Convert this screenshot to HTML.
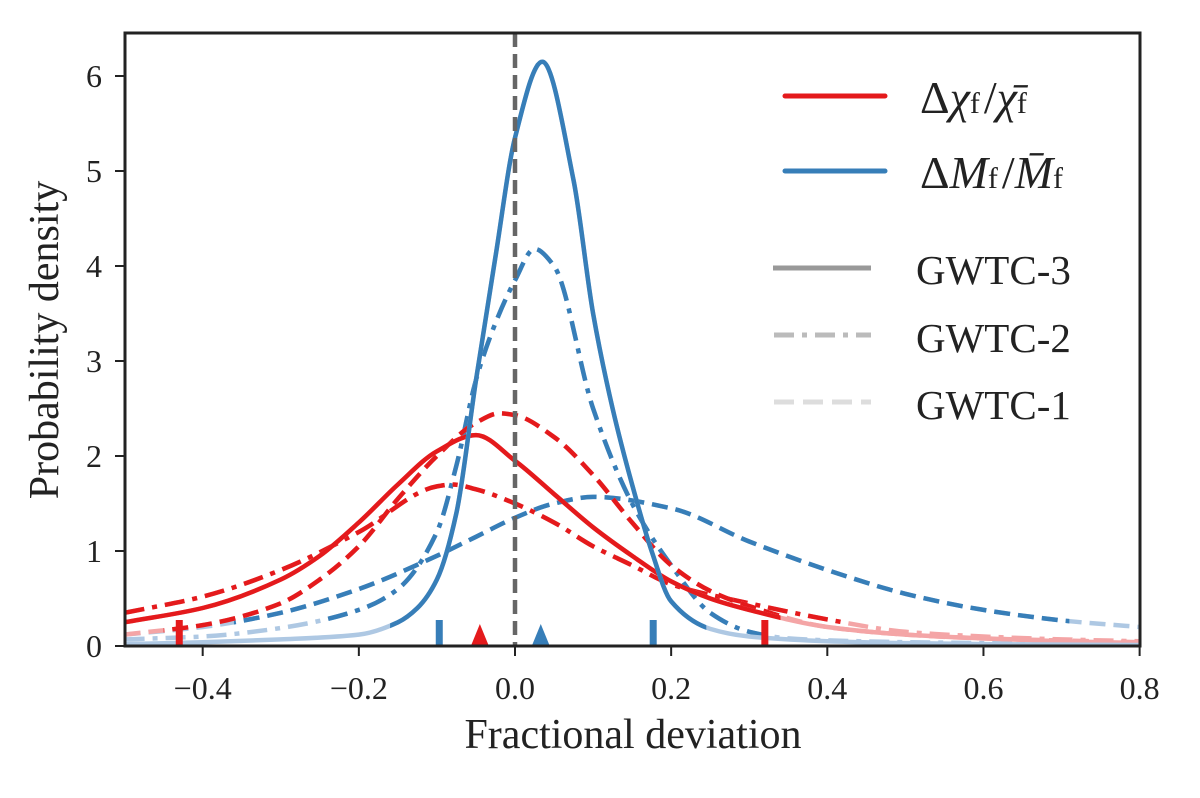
<!DOCTYPE html>
<html><head><meta charset="utf-8"><style>
body{margin:0;background:#fff}
svg{display:block;font-family:"Liberation Serif","DejaVu Serif",serif}
</style></head><body>
<svg id="chart" width="1200" height="798" viewBox="0 0 1200 798">
<defs><clipPath id="plotclip"><rect x="125" y="33" width="1015" height="613"/></clipPath></defs>
<rect x="0" y="0" width="1200" height="798" fill="#fff"/>
<g id="curves" clip-path="url(#plotclip)"></g>
<g id="axes"></g>
<g id="legend">
  <line x1="785" y1="96" x2="885" y2="96" stroke="#e41a1c" stroke-width="5" stroke-linecap="round"/>
  <text x="920" y="113" font-size="46" fill="#222">Δ<tspan font-style="italic">χ</tspan><tspan font-size="30">f</tspan><tspan dx="4">/</tspan><tspan font-style="italic">χ̄</tspan><tspan font-size="30">f</tspan></text>
  <line x1="785" y1="171" x2="885" y2="171" stroke="#377eb8" stroke-width="5" stroke-linecap="round"/>
  <text x="920" y="188" font-size="46" fill="#222">Δ<tspan font-style="italic">M</tspan><tspan font-size="30">f</tspan><tspan dx="4">/</tspan><tspan font-style="italic">M̄</tspan><tspan font-size="30">f</tspan></text>
  <line x1="773" y1="268" x2="871" y2="268" stroke="#999" stroke-width="5"/>
  <text x="916" y="284" font-size="41" fill="#222">GWTC-3</text>
  <line x1="774" y1="335" x2="871" y2="335" stroke="#bbb" stroke-width="5" stroke-dasharray="20,8,5,8"/>
  <text x="916" y="352" font-size="41" fill="#222">GWTC-2</text>
  <line x1="774" y1="402" x2="871" y2="402" stroke="#ddd" stroke-width="5" stroke-dasharray="20,9"/>
  <text x="916" y="419" font-size="41" fill="#222">GWTC-1</text>
</g>
</svg>
<script>
const xTicks=[-0.4,-0.2,0.0,0.2,0.4,0.6,0.8];
const xTickLabels=["−0.4","−0.2","0.0","0.2","0.4","0.6","0.8"];
const yTicks=[0,1,2,3,4,5,6];
const yTickLabels=["0","1","2","3","4","5","6"];

const mSolidX=[-0.5,-0.4,-0.3,-0.2,-0.15,-0.125,-0.1,-0.075,-0.05,-0.025,0,0.035,0.075,0.1,0.125,0.15,0.175,0.2,0.25,0.3,0.4,0.5,0.6,0.7,0.8];
const mSolidY=[0.02,0.04,0.07,0.12,0.25,0.4,0.7,1.4,2.8,4.1,5.35,6.15,4.9,3.5,2.5,1.7,1.0,0.47,0.18,0.1,0.05,0.03,0.02,0.015,0.01];
const mDashdotX=[-0.5,-0.4,-0.3,-0.2,-0.15,-0.1,-0.075,-0.05,-0.025,0,0.025,0.05,0.1,0.15,0.2,0.25,0.3,0.35,0.4,0.5,0.6,0.7,0.8];
const mDashdotY=[0.07,0.1,0.19,0.38,0.6,1.2,1.9,2.8,3.4,3.85,4.18,4.0,2.5,1.5,0.85,0.35,0.15,0.08,0.06,0.04,0.03,0.02,0.02];
const mDashedX=[-0.5,-0.4,-0.3,-0.2,-0.1,-0.05,0,0.05,0.1,0.2,0.3,0.4,0.5,0.6,0.7,0.8];
const mDashedY=[0.12,0.2,0.35,0.6,0.95,1.15,1.35,1.5,1.57,1.45,1.1,0.8,0.55,0.38,0.27,0.2];
const cSolidX=[-0.5,-0.4,-0.3,-0.25,-0.2,-0.15,-0.1,-0.05,0,0.05,0.1,0.15,0.2,0.25,0.3,0.4,0.5,0.6,0.7,0.8];
const cSolidY=[0.25,0.4,0.7,0.95,1.3,1.7,2.05,2.22,1.95,1.6,1.25,0.95,0.68,0.5,0.38,0.2,0.12,0.08,0.05,0.03];
const cDashdotX=[-0.5,-0.4,-0.3,-0.2,-0.1,-0.08,-0.05,0,0.05,0.1,0.15,0.2,0.3,0.4,0.5,0.6,0.7,0.8];
const cDashdotY=[0.35,0.52,0.8,1.2,1.68,1.7,1.65,1.5,1.3,1.05,0.85,0.65,0.45,0.28,0.15,0.1,0.07,0.05];
const cDashedX=[-0.5,-0.4,-0.3,-0.25,-0.2,-0.15,-0.1,-0.05,-0.02,0,0.05,0.1,0.15,0.2,0.25,0.3,0.4,0.5,0.6,0.8];
const cDashedY=[0.12,0.22,0.45,0.7,1.05,1.55,2.0,2.35,2.45,2.43,2.2,1.8,1.3,0.85,0.58,0.42,0.2,0.12,0.08,0.04];

const intervalX=[-0.43,0.32,-0.097,0.177];
const medianX=[-0.045,0.033];

const X=v=>515+v*780.77, Y=v=>646-v*95;
const NS="http://www.w3.org/2000/svg";
function mk(tag,attrs,parent){const e=document.createElementNS(NS,tag);for(const k in attrs)e.setAttribute(k,attrs[k]);parent.appendChild(e);return e;}
function pathD(xs,ys){
  const px=xs.map(X), py=ys.map(Y), n=px.length;
  const h=[],s=[];
  for(let i=0;i<n-1;i++){h.push(px[i+1]-px[i]);s.push((py[i+1]-py[i])/h[i]);}
  const m=new Array(n);
  m[0]=s[0];m[n-1]=s[n-2];
  for(let i=1;i<n-1;i++){
    if(s[i-1]*s[i]<=0)m[i]=0;
    else{const w1=2*h[i]+h[i-1],w2=h[i]+2*h[i-1];m[i]=(w1+w2)/(w1/s[i-1]+w2/s[i]);}
  }
  let d="M"+px[0].toFixed(1)+","+py[0].toFixed(1);
  for(let i=0;i<n-1;i++){
    const dx=h[i]/3;
    d+=" C"+(px[i]+dx).toFixed(1)+","+(py[i]+m[i]*dx).toFixed(1)+" "+(px[i+1]-dx).toFixed(1)+","+(py[i+1]-m[i+1]*dx).toFixed(1)+" "+px[i+1].toFixed(1)+","+py[i+1].toFixed(1);
  }
  return d;
}
const curves=document.getElementById('curves');
const axes=document.getElementById('axes');
let cid=0;
function series(name,xs,ys,color,light,dash,lo,hi){
  const d=pathD(xs,ys);
  const a=mk('path',{d:d,fill:'none',stroke:light,'stroke-width':4.5,'stroke-dasharray':dash},curves);
  
  
  const id='c'+(cid++);
  const cp=mk('clipPath',{id:id},curves);
  mk('rect',{x:X(lo),y:0,width:X(hi)-X(lo),height:798},cp);
  const b=mk('path',{d:d,fill:'none',stroke:color,'stroke-width':4.5,'stroke-dasharray':dash,'clip-path':'url(#'+id+')'},curves);
  
  
}
const R='#e41a1c',RL='#f4a5a6',B='#377eb8',BL='#aec8e3';
series('mass-gwtc1-curve',mDashedX,mDashedY,B,BL,'16,8',-0.36,0.71);
series('mass-gwtc2-curve',mDashdotX,mDashdotY,B,BL,'20,8,5,8',-0.24,0.32);
series('chi-gwtc2-curve',cDashdotX,cDashdotY,R,RL,'20,8,5,8',-0.6,0.42);
series('chi-gwtc1-curve',cDashedX,cDashedY,R,RL,'16,8',-0.45,0.34);
series('chi-gwtc3-curve',cSolidX,cSolidY,R,RL,'none',-0.6,0.34);
series('mass-gwtc3-curve',mSolidX,mSolidY,B,BL,'none',-0.16,0.245);

const zl=mk('line',{x1:X(0),y1:33,x2:X(0),y2:646,stroke:'#666','stroke-width':4.5,'stroke-dasharray':'14,7'},axes);



intervalX.forEach((v,i)=>{
  const t=mk('rect',{x:X(v)-3.5,y:620,width:7,height:26,fill:i<2?R:B},axes);
  
  
});
medianX.forEach((v,i)=>{
  const x=X(v);
  const t=mk('polygon',{points:(x-9)+',646 '+(x+9)+',646 '+x+',624',fill:i==0?R:B},axes);
  
  
});

const fr=mk('rect',{x:125,y:33,width:1015,height:613,fill:'none',stroke:'#222','stroke-width':3},axes);



xTicks.forEach((v,i)=>{
  const l=mk('line',{x1:X(v),y1:646,x2:X(v),y2:656,stroke:'#222','stroke-width':2},axes);
  
  
  const t=mk('text',{x:X(v),y:699,'font-size':32,'text-anchor':'middle',fill:'#222'},axes);
  t.textContent=xTickLabels[i];
  
  
});
yTicks.forEach((v,i)=>{
  const l=mk('line',{x1:115,y1:Y(v),x2:125,y2:Y(v),stroke:'#222','stroke-width':2},axes);
  
  
  const t=mk('text',{x:102,y:Y(v)+11,'font-size':32,'text-anchor':'end',fill:'#222'},axes);
  t.textContent=yTickLabels[i];
  
  
});
const xt=mk('text',{x:633,y:748,'font-size':42,'text-anchor':'middle',fill:'#222'},axes);
xt.textContent='Fractional deviation';


const yt=mk('text',{x:0,y:0,'font-size':42,'text-anchor':'middle',fill:'#222',transform:'translate(58,340) rotate(-90)'},axes);
yt.textContent='Probability density';


</script>
</body></html>
